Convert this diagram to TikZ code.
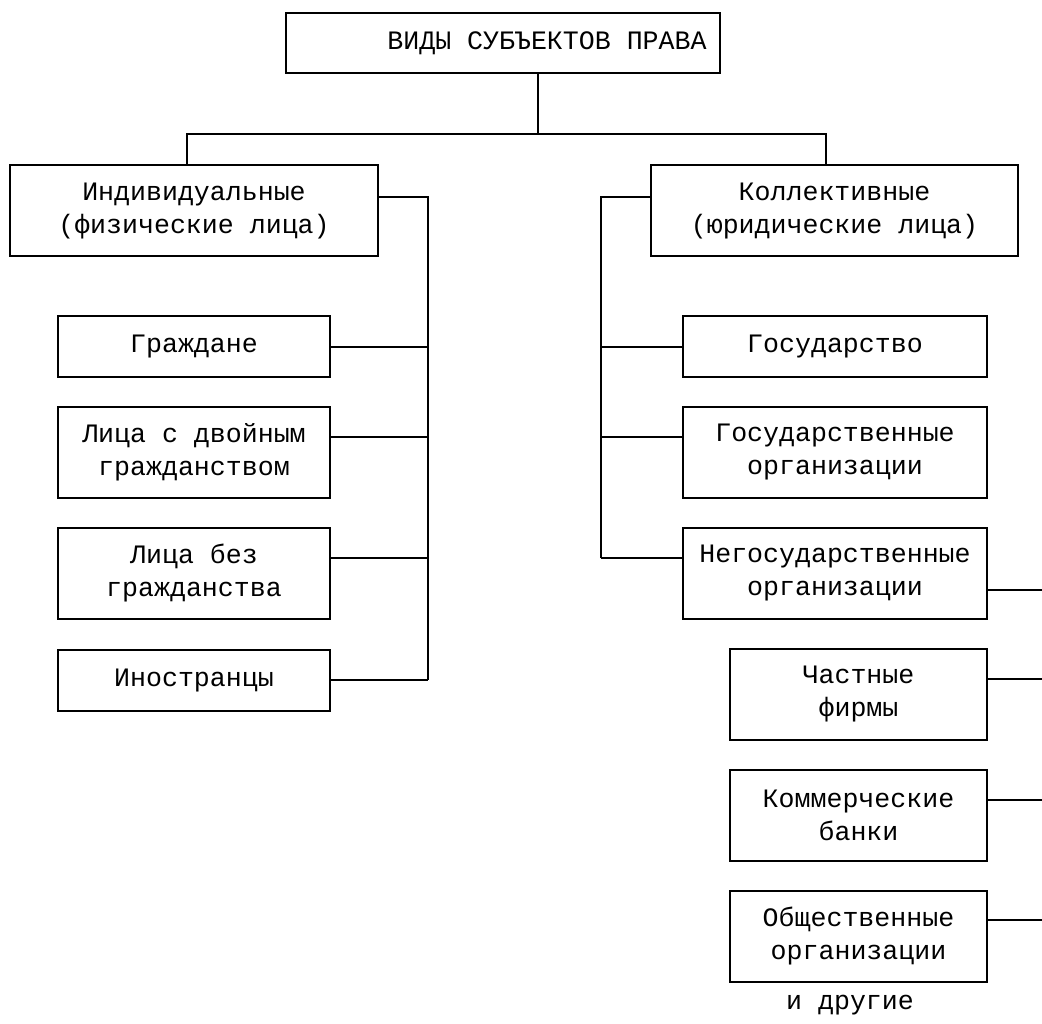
\documentclass[tikz,border=0pt]{standalone}
\usepackage{fontspec}
\usetikzlibrary{calc}
\newfontfamily\monofont{Liberation Mono}
\tikzset{
  subjbox/.style={draw,line width=1pt,inner sep=0pt,align=center,
    font=\monofont\fontsize{13.3}{16.5}\selectfont},
  onerow/.style={subjbox,minimum height=30.5pt},
  tworow/.style={subjbox,minimum height=45.5pt},
  subjline/.style={line width=1pt},
}

\begin{document}
\begin{tikzpicture}[x=0.5pt,y=-0.5pt]
        \useasboundingbox (0,0) rectangle (1042,1023);
        \node[onerow,minimum width=217pt,minimum height=30pt] (types) at (503,43)
          {\hspace*{44pt}ВИДЫ СУБЪЕКТОВ ПРАВА};
        \node[tworow,minimum width=184pt] (indiv) at (194,210.5)
          {Индивидуальные\\(физические лица)};
        \node[tworow,minimum width=183.5pt] (koll) at (834.5,210.5)
          {Коллективные\\(юридические лица)};
        \node[onerow,minimum width=136pt] (grazh) at (194,346.5) {Граждане};
        \node[tworow,minimum width=136pt] (dual) at (194,452)
          {Лица с двойным\\гражданством};
        \node[tworow,minimum width=136pt] (nocit) at (194,573)
          {Лица без\\гражданства};
        \node[onerow,minimum width=136pt] (foreign) at (194,680) {Иностранцы};
        \node[onerow,minimum width=152pt] (state) at (835,346.5) {Государство};
        \node[tworow,minimum width=152pt] (stateorg) at (835,452)
          {Государственные\\организации};
        \node[tworow,minimum width=152pt] (nonstate) at (835,573)
          {Негосударственные\\организации};
        \node[tworow,minimum width=128.5pt] (firms) at (858.5,694)
          {Частные\\фирмы};
        \node[tworow,minimum width=128.5pt] (banks) at (858.5,815)
          {Коммерческие\\банки};
        \node[tworow,minimum width=128.5pt] (public) at (858.5,936)
          {Общественные\\организации};
        \node[font=\monofont\fontsize{13.3}{16.5}\selectfont] (others) at (850,1005)
          {и другие};
        \draw[subjline] ([xshift=17.5pt]types.south) -- ++(0,60) coordinate (fork);
        \draw[subjline] ([xshift=-3.5pt]indiv.north) |- (fork)
          -| ([xshift=-4.25pt]koll.north);
        \draw[subjline] ([yshift=6.75pt]indiv.east) -- ++(49,0) coordinate (lrail)
          -- (lrail |- foreign.east);
        \foreach \n/\s in {grazh/0,dual/7.5,nocit/7.5,foreign/0}
          \draw[subjline] ([yshift=\s pt]\n.east) coordinate (c) -- (c -| lrail);
        \coordinate (nsw) at ([yshift=7.5pt]nonstate.west);
        \draw[subjline] ([yshift=6.75pt]koll.west) -- ++(-49,0) coordinate (rrail)
          -- (rrail |- nsw);
        \foreach \n/\s in {state/0,stateorg/7.5,nonstate/7.5}
          \draw[subjline] ([yshift=\s pt]\n.west) coordinate (c) -- (c -| rrail);
        \coordinate (edge) at (1042,0);
        \foreach \n/\s in {nonstate/-8.5,firms/7.5,banks/7.5,public/8}
          \draw[subjline] ([yshift=\s pt]\n.east) coordinate (c) -- (c -| edge);
      \end{tikzpicture}
\end{document}
